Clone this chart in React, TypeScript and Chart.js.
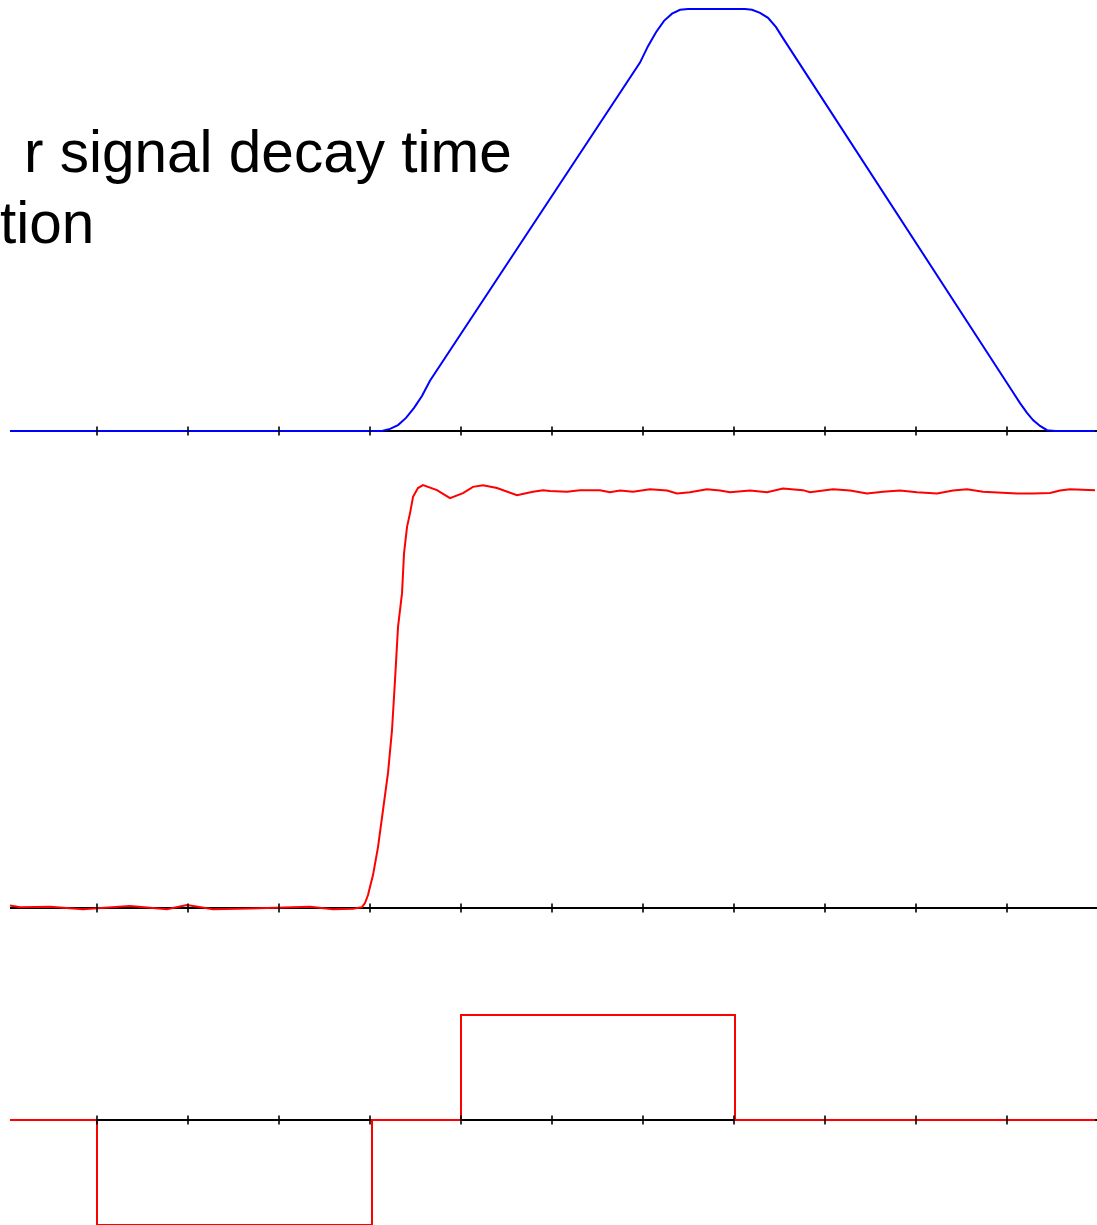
import React, { useEffect, useRef } from "react";
import { Chart, registerables } from "chart.js";

Chart.register(...registerables);

// ---- data ----
const tickValues = [1, 2, 3, 4, 5, 6, 7, 8, 9, 10, 11];
const axisStart = 0.044;

// top panel: filter output (blue)
const filteredTimes = [
  0.044, 4.132, 4.22, 4.308, 4.396, 4.484, 4.571, 4.659, 6.967, 7.055, 7.143, 7.231, 7.319, 7.407,
  7.495, 8.121, 8.198, 8.286, 8.374, 8.462, 8.538, 11.066, 11.143, 11.22, 11.286, 11.363, 11.44,
  11.527, 11.967,
];
const filteredValues = [
  0, 0, 0.005, 0.014, 0.031, 0.055, 0.083, 0.119, 0.873, 0.912, 0.945, 0.972, 0.989, 0.998,
  1.0, 1.0, 0.998, 0.991, 0.979, 0.957, 0.931, 0.092, 0.066, 0.043, 0.026, 0.012, 0.002,
  0, 0,
];

// middle panel: input signal step (red)
const signalTimes = [
  0.044, 0.154, 0.484, 0.846, 1.363, 1.769, 1.989, 2.275, 2.681, 3.341, 3.593, 3.813, 3.912,
  3.945, 3.978, 4.033, 4.088, 4.143, 4.198, 4.242, 4.275, 4.308, 4.352, 4.374, 4.407, 4.44, 4.473,
  4.527, 4.582, 4.736, 4.879, 5.022, 5.132, 5.242, 5.396, 5.615, 5.791, 5.901, 5.978,
  6.165, 6.308, 6.527, 6.637, 6.747, 6.89, 7.077, 7.264, 7.374, 7.516, 7.703, 7.846, 7.956,
  8.176, 8.363, 8.538, 8.758, 8.835, 9.088, 9.275, 9.462, 9.637, 9.824, 10.011, 10.231, 10.407,
  10.56, 10.736, 11.11, 11.286, 11.473, 11.582, 11.692, 11.967,
];
const signalValues = [
  0.006, 0.002, 0.003, -0.003, 0.005, -0.003, 0.007, -0.003, -0.001, 0.003, -0.003, -0.002, 0.002,
  0.012, 0.031, 0.079, 0.146, 0.235, 0.324, 0.427, 0.547, 0.674, 0.755, 0.851, 0.914, 0.947, 0.986,
  1.007, 1.014, 1.002, 0.983, 0.995, 1.01, 1.014, 1.007, 0.99, 0.998, 1.002, 1.0,
  0.998, 1.002, 1.002, 0.997, 1.001, 0.998, 1.004, 1.001, 0.994, 0.997, 1.004, 1.001, 0.997,
  1.001, 0.997, 1.006, 1.002, 0.997, 1.004, 1.001, 0.994, 0.998, 1.001, 0.997, 0.994, 1.001,
  1.004, 0.998, 0.994, 0.994, 0.995, 1.001, 1.004, 1.002,
];

// bottom panel: bipolar filter kernel (red); each level holds from its time to the next
const kernelTimes = [0.044, 1, 4.022, 5, 8.011, 11.97];
const kernelLevels = [0, -1, 0, 1, 0, 0];

const titleLines = ["r signal decay time", "tion"];

// ---- layout ----
const W = 1097;
const PX_PER_UNIT_X = 91;
const X_MIN = -6 / PX_PER_UNIT_X;
const X_MAX = X_MIN + W / PX_PER_UNIT_X;

const axisPlugin = {
  id: "zeroAxis",
  beforeDatasetsDraw(chart: any) {
    const { ctx } = chart;
    const xs = chart.scales.x;
    const ys = chart.scales.y;
    const py = ys.getPixelForValue(0);
    ctx.save();
    ctx.strokeStyle = "#000000";
    ctx.lineWidth = 2;
    ctx.beginPath();
    ctx.moveTo(xs.getPixelForValue(axisStart), py);
    ctx.lineTo(chart.width, py);
    ctx.stroke();
    ctx.restore();
  },
  afterDatasetsDraw(chart: any) {
    const { ctx } = chart;
    const xs = chart.scales.x;
    const ys = chart.scales.y;
    const py = ys.getPixelForValue(0);
    ctx.save();
    ctx.strokeStyle = "#000000";
    ctx.lineWidth = 1.6;
    tickValues.forEach((v) => {
      const px = xs.getPixelForValue(v);
      ctx.beginPath();
      ctx.moveTo(px, py - 4.5);
      ctx.lineTo(px, py + 4.5);
      ctx.stroke();
    });
    ctx.restore();
  },
};

type PanelProps = {
  top: number;
  height: number;
  zeroPx: number;
  unitPx: number;
  times: number[];
  values: number[];
  color: string;
  stepped?: any;
};

function Panel({ top, height, zeroPx, unitPx, times, values, color, stepped }: PanelProps) {
  const ref = useRef<HTMLCanvasElement | null>(null);
  useEffect(() => {
    if (!ref.current) return;
    const yMax = zeroPx / unitPx;
    const yMin = -(height - zeroPx) / unitPx;
    const chart = new Chart(ref.current, {
      type: "line",
      data: {
        datasets: [
          {
            data: times.map((t, i) => ({ x: t, y: values[i] })),
            borderColor: color,
            borderWidth: 2,
            pointRadius: 0,
            tension: 0,
            stepped: stepped ?? false,
            fill: false,
            clip: false,
          } as any,
        ],
      },
      options: {
        animation: false,
        responsive: false,
        events: [],
        layout: { padding: 0 },
        plugins: { legend: { display: false }, tooltip: { enabled: false } },
        scales: {
          x: { type: "linear", display: false, min: X_MIN, max: X_MAX },
          y: { type: "linear", display: false, min: yMin, max: yMax },
        },
      },
      plugins: [axisPlugin],
    });
    return () => chart.destroy();
  }, []);
  return (
    <canvas
      ref={ref}
      width={W}
      height={height}
      style={{ position: "absolute", left: 0, top, width: W, height, display: "block" }}
    />
  );
}

const textStyle: React.CSSProperties = {
  position: "absolute",
  fontFamily: '"Liberation Sans", Arial, sans-serif',
  fontSize: 58.5,
  lineHeight: "66px",
  color: "#000",
  whiteSpace: "pre",
};

export default function App() {
  return (
    <div
      style={{
        position: "absolute",
        left: 0,
        top: 0,
        width: W,
        height: 1225,
        overflow: "hidden",
        background: "#ffffff",
      }}
    >
      <Panel top={0} height={440} zeroPx={431} unitPx={422} times={filteredTimes} values={filteredValues} color="#0000ff" />
      <Panel top={440} height={480} zeroPx={468} unitPx={417} times={signalTimes} values={signalValues} color="#ff0000" />
      <Panel
        top={920}
        height={305}
        zeroPx={200}
        unitPx={105}
        times={kernelTimes}
        values={kernelLevels}
        color="#ff0000"
        stepped="before"
      />
      <div style={{ ...textStyle, left: 24, top: 119 }}>{titleLines[0]}</div>
      <div style={{ ...textStyle, left: 0, top: 190 }}>{titleLines[1]}</div>
    </div>
  );
}
